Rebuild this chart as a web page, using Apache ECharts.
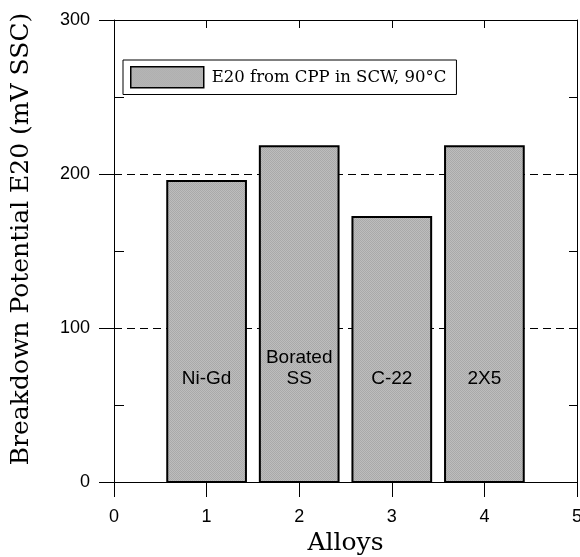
<!DOCTYPE html>
<html>
<head>
<meta charset="utf-8">
<script src="https://cdn.jsdelivr.net/npm/echarts@6/dist/echarts.min.js"></script>
<style>
  html, body { margin: 0; padding: 0; background: #fff; }
  #chart { width: 580px; height: 557px; }
</style>
</head>
<body>
<div id="chart"></div>
<script>
// data
var alloyPos    = [1, 2, 3, 4];
var alloyNames  = ['Ni-Gd', 'Borated\nSS', 'C-22', '2X5'];
var e20Values   = [195.5, 218, 172, 218];
var seriesName  = 'E20 from CPP in SCW, 90\u00b0C';
var xTicks      = [0, 1, 2, 3, 4, 5];
var yTicks      = [0, 100, 200, 300];

var BAR_W = 0.85;      // bar width in x units
var LABEL_Y = 67;      // where the bar names sit (y units)
var LINE_H = 21;

// fine dotted grey fill like the original hatch
function makePattern() {
  var c = document.createElement('canvas');
  c.width = 2; c.height = 2;
  var ctx = c.getContext('2d');
  ctx.fillStyle = '#bdbdbd'; ctx.fillRect(0, 0, 2, 2);
  ctx.fillStyle = '#a9a9a9'; ctx.fillRect(0, 0, 1, 1); ctx.fillRect(1, 1, 1, 1);
  return { image: c, repeat: 'repeat' };
}
var fillPat = makePattern();

var myChart = echarts.init(document.getElementById('chart'));

var tickFont = { fontFamily: 'Liberation Sans', fontSize: 18, color: '#000' };
var serif = 'DejaVu Serif';

myChart.setOption({
  animation: false,
  backgroundColor: '#fff',
  grid: { left: 114, right: 3, top: 20, bottom: 75, containLabel: false, outerBoundsMode: 'none' },
  legend: {
    left: 123, top: 60,
    padding: [6, 10, 6, 7],
    borderColor: '#000', borderWidth: 1,
    itemWidth: 73, itemHeight: 21,
    textStyle: { fontFamily: serif, fontSize: 16.5, color: '#000', padding: [0, 0, 0, 3] },
    data: [{ name: seriesName, icon: 'rect',
             itemStyle: { color: fillPat, borderColor: '#000', borderWidth: 1.5 } }]
  },
  xAxis: [
    {
      type: 'value', position: 'bottom', min: 0, max: 5, interval: 1,
      name: 'Alloys', nameLocation: 'middle', nameGap: 46,
      nameTextStyle: { fontFamily: serif, fontSize: 25, color: '#000' },
      axisLine: { show: true, onZero: false, lineStyle: { color: '#000', width: 1 } },
      axisTick: { show: true, inside: false, length: 15, lineStyle: { color: '#000' } },
      axisLabel: Object.assign({ margin: 26, showMaxLabel: true, hideOverlap: false,
        formatter: function (v) { return xTicks.indexOf(v) >= 0 ? String(v) : ''; } }, tickFont),
      splitLine: { show: false }
    },
    {
      type: 'value', position: 'top', min: 0, max: 5, interval: 1,
      axisLine: { show: true, onZero: false, lineStyle: { color: '#000', width: 1 } },
      axisTick: { show: true, inside: true, length: 8, lineStyle: { color: '#000' } },
      axisLabel: { show: false },
      splitLine: { show: false }
    }
  ],
  yAxis: [
    {
      type: 'value', position: 'left', min: 0, max: 300, interval: 100,
      name: 'Breakdown Potential E20 (mV SSC)', nameLocation: 'middle', nameGap: 80,
      nameTextStyle: { fontFamily: serif, fontSize: 25, color: '#000', padding: [0, 0, 0, 24] },
      axisLine: { show: true, onZero: false, lineStyle: { color: '#000', width: 1 } },
      axisTick: { show: true, inside: false, length: 15, lineStyle: { color: '#000' } },
      axisLabel: Object.assign({ margin: 24,
        formatter: function (v) { return yTicks.indexOf(v) >= 0 ? String(v) : ''; } }, tickFont),
      splitLine: { show: true, lineStyle: { color: '#000', width: 1, type: [8, 5] } }
    },
    {
      // inward minor ticks on the left side
      type: 'value', position: 'left', min: 0, max: 300, interval: 100,
      axisLine: { show: false },
      axisTick: { show: false, inside: true },
      minorTick: { show: true, splitNumber: 2, length: 10, lineStyle: { color: '#000' } },
      axisLabel: { show: false },
      splitLine: { show: false }
    },
    {
      type: 'value', position: 'right', min: 0, max: 300, interval: 100,
      axisLine: { show: true, onZero: false, lineStyle: { color: '#000', width: 1 } },
      axisTick: { show: true, inside: true, length: 8, lineStyle: { color: '#000' } },
      minorTick: { show: true, splitNumber: 2, length: 8, lineStyle: { color: '#000' } },
      axisLabel: { show: false },
      splitLine: { show: false }
    }
  ],
  series: [
    {
      name: seriesName,
      type: 'custom',
      xAxisIndex: 0, yAxisIndex: 0,
      data: alloyPos.map(function (x, i) { return [x, e20Values[i], i]; }),
      renderItem: function (params, api) {
        var x = api.value(0), y = api.value(1), idx = api.value(2);
        var top = api.coord([x, y]);
        var base = api.coord([x, 0]);
        var lab = api.coord([x, LABEL_Y]);
        var w = api.size([BAR_W, 0])[0];
        var txt = alloyNames[idx];
        var nLines = txt.split('\n').length;
        return {
          type: 'group',
          children: [
            {
              type: 'rect',
              shape: { x: top[0] - w / 2, y: top[1], width: w, height: base[1] - top[1] },
              style: { fill: fillPat, stroke: '#000', lineWidth: 2 }
            },
            {
              type: 'text',
              x: lab[0], y: lab[1] - (nLines - 1) * LINE_H / 2,
              style: {
                text: txt, fill: '#000', fontFamily: 'Liberation Sans', fontSize: 19,
                lineHeight: LINE_H, align: 'center', verticalAlign: 'middle'
              }
            }
          ]
        };
      }
    }
  ]
});
</script>
</body>
</html>
